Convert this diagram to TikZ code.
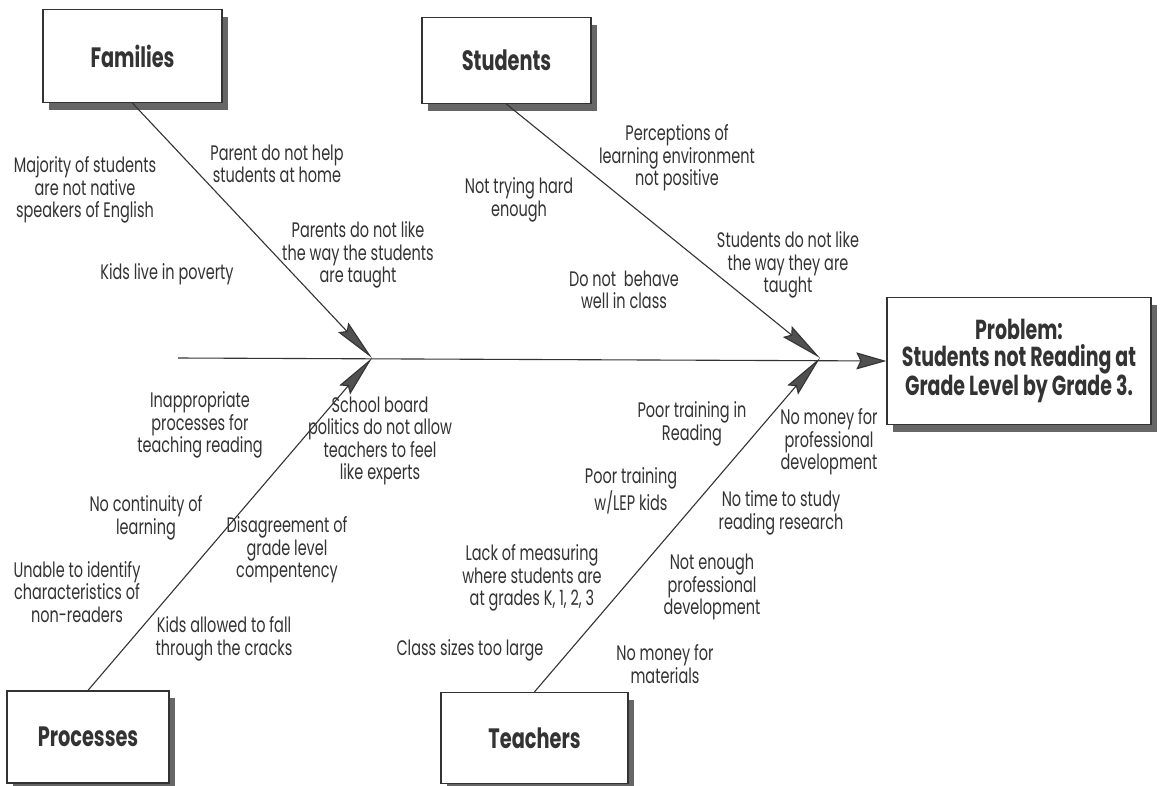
\documentclass[tikz,border=0pt]{standalone}
\usepackage{fontspec}
\setmainfont{Poppins}[FakeStretch=0.69]
\usetikzlibrary{arrows.meta,shadows}
\definecolor{ink}{HTML}{333333}
\definecolor{shade}{HTML}{666666}
\definecolor{headfill}{HTML}{505050}
\begin{document}
\begin{tikzpicture}[x=1pt,y=-1pt,
  catbox/.style={draw=ink, line width=1.3pt, fill=white, inner sep=0pt, text=ink,
    font=\bfseries\fontsize{28}{30}\selectfont,
    drop shadow={shadow xshift=6pt, shadow yshift=-7pt, fill=shade, opacity=1}},
  cause/.style={align=center, text=ink, inner sep=0pt, font=\fontsize{21}{22.5}\selectfont},
  bone/.style={draw=ink, line width=1.1pt},
  bonehead/.style={-{Stealth[length=42pt,width=14pt,inset=5pt,fill=headfill]}},
  spinehead/.style={-{Stealth[length=30pt,width=17pt,inset=4pt,fill=headfill]}}]
\useasboundingbox (0,0) rectangle (1160,785);
\fill[white] (0,0) rectangle (1160,785);
% category boxes
\node[catbox, minimum width=179pt, minimum height=93pt] (families) at (132.5,56) {Families};
\node[catbox, minimum width=169pt, minimum height=86pt] (students) at (506.5,60.5) {Students};
\node[catbox, minimum width=162pt, minimum height=92pt] (processes) at (88,737) {Processes};
\node[catbox, minimum width=187pt, minimum height=91pt] (teachers) at (534.5,738) {Teachers};
\node[catbox, minimum width=264pt, minimum height=127pt, align=center,
  font=\bfseries\fontsize{27.5}{27}\selectfont] (problem) at (1019,361)
  {Problem:\\Students not Reading at\\Grade Level by Grade 3.};
% spine and junctions
\coordinate (s0) at (178,358);
\coordinate (j1) at (372,358);
\coordinate (j2) at (820,358);
\draw[bone, spinehead] (s0) -- (problem.west);
\draw[bone, bonehead] (families.south) -- (j1);
\draw[bone, bonehead] (processes.north) -- (j1);
\draw[bone, bonehead] (students.south) -- (j2);
\draw[bone, bonehead] (teachers.north) -- (j2);
% Families causes
\node[cause] (f1) at (85,190) {Majority of students\\are not native\\speakers of English};
\node[cause] (f2) at (277,164) {Parent do not help\\students at home};
\node[cause] (f3) at (358,255) {Parents do not like\\the way the students\\are taught};
\node[cause] (f4) at (167,274) {Kids live in poverty};
% Students causes
\node[cause] (st1) at (677,158) {Perceptions of\\learning environment\\not positive};
\node[cause] (st2) at (519,200) {Not trying hard\\enough};
\node[cause] (st3) at (788,265) {Students do not like\\the way they are\\taught};
\node[cause] (st4) at (624,290) {Do not \ behave\\well in class};
% Processes causes
\node[cause] (p1) at (200,425) {Inappropriate\\processes for\\teaching reading};
\node[cause] (p2) at (380,441) {School board\\politics do not allow\\teachers to feel\\like experts};
\node[cause] (p3) at (146,518) {No continuity of\\learning};
\node[cause] (p4) at (287,550) {Disagreement of\\grade level\\compentency};
\node[cause] (p5) at (77,592) {Unable to identify\\characteristics of\\non-readers};
\node[cause] (p6) at (224,639) {Kids allowed to fall\\through the cracks};
% Teachers causes
\node[cause] (t1) at (692,424) {Poor training in\\Reading};
\node[cause] (t2) at (829,442) {No money for\\professional\\development};
\node[cause] (t3) at (631,491) {Poor training\\w/LEP kids};
\node[cause] (t4) at (781,513) {No time to study\\reading research};
\node[cause] (t5) at (532,578) {Lack of measuring\\where students are\\at grades K, 1, 2, 3};
\node[cause] (t6) at (712,587) {Not enough\\professional\\development};
\node[cause] (t7) at (470,650) {Class sizes too large};
\node[cause] (t8) at (665,664) {No money for\\materials};
\end{tikzpicture}
\end{document}
